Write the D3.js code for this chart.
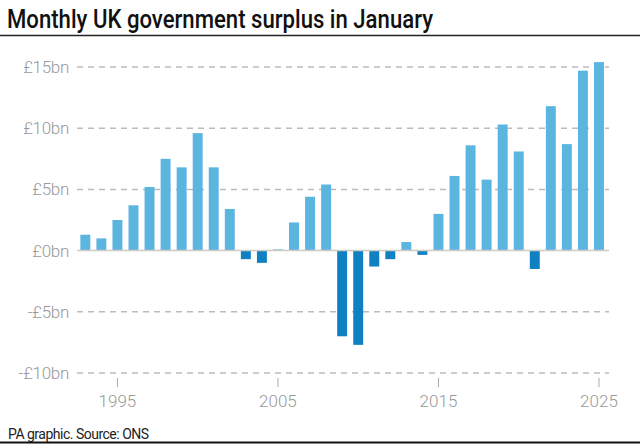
<!DOCTYPE html>
<html>
<head>
<meta charset="utf-8">
<script src="https://cdn.jsdelivr.net/npm/d3@7"></script>
<style>
  body { margin: 0; background: #fff; }
  svg { display: block; font-family: Roboto, "Liberation Sans", Arial, sans-serif; }
</style>
</head>
<body>
<div id="chart"></div>
<script>
"use strict";

// January surplus, £bn
var years = [1993, 1994, 1995, 1996, 1997, 1998, 1999, 2000, 2001, 2002,
             2003, 2004, 2005, 2006, 2007, 2008, 2009, 2010, 2011, 2012,
             2013, 2014, 2015, 2016, 2017, 2018, 2019, 2020, 2021, 2022,
             2023, 2024, 2025];
var surplus = [1.3, 1.0, 2.5, 3.7, 5.2, 7.5, 6.8, 9.6, 6.8, 3.4,
               -0.7, -1.0, 0.1, 2.3, 4.4, 5.4, -7.0, -7.7, -1.3, -0.7,
               0.7, -0.35, 3.0, 6.1, 8.6, 5.8, 10.3, 8.1, -1.5, 11.8,
               8.7, 14.7, 15.4];
var yTicks = [-10, -5, 0, 5, 10, 15];
var xTickYears = [1995, 2005, 2015, 2025];

var width = 640, height = 448;

var svg = d3.select("#chart").append("svg")
    .attr("width", width)
    .attr("height", height);

// title
svg.append("text")
    .attr("x", 7)
    .attr("y", 28)
    .attr("font-size", 26)
    .attr("font-weight", 500)
    .attr("fill", "#111")
    .attr("textLength", 426)
    .attr("lengthAdjust", "spacingAndGlyphs")
    .text("Monthly UK government surplus in January");

svg.append("line")
    .attr("x1", 0).attr("x2", width)
    .attr("y1", 35.5).attr("y2", 35.5)
    .attr("stroke", "#222")
    .attr("stroke-width", 1.5);

var yScale = d3.scaleLinear()
    .domain([-10, 15])
    .range([373, 67]);

var xScale = d3.scaleBand()
    .domain(years)
    .range([77.3, 607])
    .paddingInner(0.38)
    .paddingOuter(0.19);

// gridlines
svg.selectAll(".grid")
    .data(yTicks.filter(function(d){ return d != 0; }))
    .enter()
    .append("line")
    .attr("class", "grid")
    .attr("x1", 77)
    .attr("x2", 609)
    .attr("y1", function(d){ return yScale(d); })
    .attr("y2", function(d){ return yScale(d); })
    .attr("stroke", "#bbb")
    .attr("stroke-width", 1.5)
    .attr("stroke-dasharray", "6,5");

// y labels
svg.selectAll(".ylab")
    .data(yTicks)
    .enter()
    .append("text")
    .attr("class", "ylab")
    .attr("x", 69)
    .attr("y", function(d){ return yScale(d); })
    .attr("dy", "0.35em")
    .attr("text-anchor", "end")
    .attr("font-size", 17)
    .attr("font-weight", 300)
    .attr("fill", "#999")
    .attr("letter-spacing", -0.3)
    .text(function(d){ return (d < 0 ? "-£" : "£") + Math.abs(d) + "bn"; });

// bars
svg.selectAll(".bar")
    .data(years)
    .enter()
    .append("rect")
    .attr("class", "bar")
    .attr("x", function(d){ return xScale(d); })
    .attr("width", xScale.bandwidth())
    .attr("y", function(d, i){ return yScale(Math.max(0, surplus[i])); })
    .attr("height", function(d, i){ return Math.abs(yScale(surplus[i]) - yScale(0)); })
    .attr("fill", function(d, i){ return surplus[i] < 0 ? "#0f80c1" : "#5ab6df"; });

// zero line
svg.append("line")
    .attr("x1", 77)
    .attr("x2", 609)
    .attr("y1", yScale(0))
    .attr("y2", yScale(0))
    .attr("stroke", "#cfcac4")
    .attr("stroke-width", 1.5);

// x axis ticks
var xAxis = svg.append("g");
xAxis.selectAll(".xtick")
    .data(xTickYears)
    .enter()
    .append("line")
    .attr("x1", function(d){ return xScale(d) + xScale.bandwidth() / 2; })
    .attr("x2", function(d){ return xScale(d) + xScale.bandwidth() / 2; })
    .attr("y1", 378)
    .attr("y2", 387)
    .attr("stroke", "#aaa")
    .attr("stroke-width", 1);

xAxis.selectAll(".xlab")
    .data(xTickYears)
    .enter()
    .append("text")
    .attr("x", function(d){ return xScale(d) + xScale.bandwidth() / 2; })
    .attr("y", 407)
    .attr("text-anchor", "middle")
    .attr("font-size", 17)
    .attr("font-weight", 300)
    .attr("fill", "#999")
    .text(function(d){ return d; });

// footer
svg.append("text")
    .attr("x", 8)
    .attr("y", 439)
    .attr("font-size", 14)
    .attr("fill", "#222")
    .attr("letter-spacing", -0.5)
    .text("PA graphic. Source: ONS");

svg.append("line")
    .attr("x1", 0).attr("x2", width)
    .attr("y1", 442.5).attr("y2", 442.5)
    .attr("stroke", "#111")
    .attr("stroke-width", 2);
</script>
</body>
</html>
